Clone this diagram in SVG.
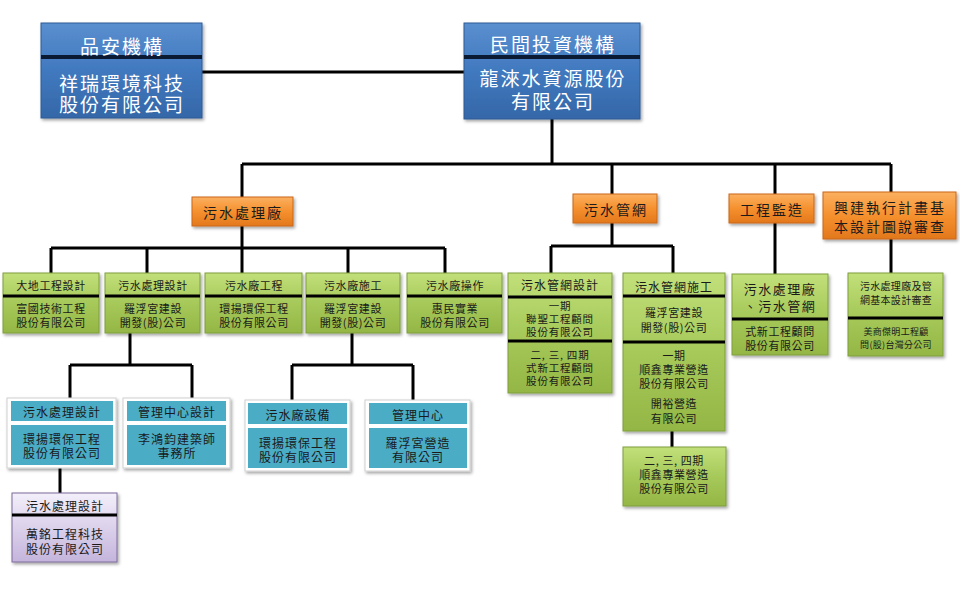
<svg xmlns="http://www.w3.org/2000/svg" width="960" height="599" viewBox="0 0 960 599">
<defs>
  <linearGradient id="gBlue" x1="0" y1="0" x2="0" y2="1">
    <stop offset="0" stop-color="#5a8fcf"/>
    <stop offset="0.5" stop-color="#4179bf"/>
    <stop offset="1" stop-color="#3467a8"/>
  </linearGradient>
  <linearGradient id="gOrange" x1="0" y1="0" x2="0" y2="1">
    <stop offset="0" stop-color="#fbb060"/>
    <stop offset="0.5" stop-color="#f5902e"/>
    <stop offset="1" stop-color="#e3781c"/>
  </linearGradient>
  <linearGradient id="gGreen" x1="0" y1="0" x2="0" y2="1">
    <stop offset="0" stop-color="#c2e07a"/>
    <stop offset="0.5" stop-color="#a6c95a"/>
    <stop offset="1" stop-color="#93b645"/>
  </linearGradient>
  <linearGradient id="gPurple" x1="0" y1="0" x2="0" y2="1">
    <stop offset="0" stop-color="#f3effa"/>
    <stop offset="1" stop-color="#c4b4dc"/>
  </linearGradient>
  <filter id="sh" x="-10%" y="-10%" width="125%" height="130%">
    <feDropShadow dx="1.5" dy="2" stdDeviation="1.5" flood-color="#000" flood-opacity="0.35"/>
  </filter>
</defs>
<style>
  .conn path { fill: none; stroke: #000; stroke-width: 3; }
  .blue { fill: url(#gBlue); stroke: #2c5a94; stroke-width: 1; }
  .orange { fill: url(#gOrange); stroke: #c9671a; stroke-width: 1; }
  .green { fill: url(#gGreen); stroke: #7f9e3c; stroke-width: 1; }
  .purple { fill: url(#gPurple); stroke: #7d6a9a; stroke-width: 1; }
  .frame { fill: #fff; stroke: #d0d0d0; stroke-width: 1; }
  .teal { fill: #4bacc6; }
  .div { stroke: #000; stroke-width: 3; }
  .divb { stroke: #0b1a33; stroke-width: 4; }
  text { font-family: "Noto Sans CJK TC", "Noto Sans CJK SC", sans-serif; text-anchor: middle; dominant-baseline: central; fill: #1a1a1a; }
  .tw { fill: #ffffff; font-size: 19px; letter-spacing: 2px; }
  .to { font-size: 14px; letter-spacing: 2px; }
  .t11 { font-size: 11px; letter-spacing: 0.6px; }
  .t105 { font-size: 10.5px; letter-spacing: 0.8px; }
  .t12 { font-size: 12px; letter-spacing: 1px; }
  .t13 { font-size: 13px; letter-spacing: 1.5px; }
  .t10 { font-size: 10px; letter-spacing: 0.3px; }
  .t9 { font-size: 9px; letter-spacing: 0.3px; }
</style>

<g class="conn" id="connectors">
  <path d="M202,72 H464"/>
  <path d="M552,119 V164"/>
  <path d="M242,164 H891"/>
  <path d="M242,164 V197"/>
  <path d="M612,164 V194"/>
  <path d="M775,164 V194"/>
  <path d="M891,164 V192"/>
  <path d="M242,226 V273"/>
  <path d="M51,248 H445"/>
  <path d="M51,248 V273"/>
  <path d="M147,248 V273"/>
  <path d="M348,248 V273"/>
  <path d="M445,248 V273"/>
  <path d="M612,223 V246"/>
  <path d="M551,246 H673"/>
  <path d="M551,246 V273"/>
  <path d="M673,246 V273"/>
  <path d="M775,223 V274"/>
  <path d="M891,239 V273"/>
  <path d="M130,333 V365"/>
  <path d="M70,365 H192"/>
  <path d="M70,365 V399"/>
  <path d="M192,365 V399"/>
  <path d="M352,333 V365"/>
  <path d="M292,365 H413"/>
  <path d="M292,365 V401"/>
  <path d="M413,365 V401"/>
  <path d="M60,468 V493"/>
  <path d="M672,431 V447"/>
</g>

<g id="n-pinan">
  <rect class="blue" x="41" y="23" width="161" height="95" filter="url(#sh)"/>
  <line class="divb" x1="41" y1="57" x2="202" y2="57"/>
  <text class="tw" x="122" y="45">品安機構</text>
  <text class="tw" x="122" y="82">祥瑞環境科技<tspan x="122" dy="21">股份有限公司</tspan></text>
</g>

<g id="n-minjian">
  <rect class="blue" x="464" y="23" width="176" height="96" filter="url(#sh)"/>
  <line class="divb" x1="464" y1="57" x2="640" y2="57"/>
  <text class="tw" x="553" y="43">民間投資機構</text>
  <text class="tw" x="553" y="77">龍淶水資源股份<tspan x="553" dy="23">有限公司</tspan></text>
</g>

<g id="n-plant">
  <rect class="orange" x="192" y="197" width="101" height="29" filter="url(#sh)"/>
  <text class="to" x="243" y="212">污水處理廠</text>
</g>
<g id="n-network">
  <rect class="orange" x="573" y="194" width="84" height="29" filter="url(#sh)"/>
  <text class="to" x="616" y="209">污水管網</text>
</g>
<g id="n-supervise">
  <rect class="orange" x="729" y="194" width="85" height="29" filter="url(#sh)"/>
  <text class="to" x="772" y="209">工程監造</text>
</g>
<g id="n-review">
  <rect class="orange" x="823" y="192" width="133" height="47" filter="url(#sh)"/>
  <text class="to" x="890" y="207">興建執行計畫基<tspan x="890" dy="19">本設計圖說審查</tspan></text>
</g>

<g id="n-geo">
  <rect class="green" x="3" y="273" width="96" height="60" filter="url(#sh)"/>
  <line class="div" x1="3" y1="296" x2="99" y2="296"/>
  <text class="t11" x="51" y="285">大地工程設計</text>
  <text class="t11" x="51" y="308">富國技術工程<tspan x="51" dy="14">股份有限公司</tspan></text>
</g>
<g id="n-design">
  <rect class="green" x="105" y="273" width="95" height="60" filter="url(#sh)"/>
  <line class="div" x1="105" y1="296" x2="200" y2="296"/>
  <text class="t11" x="153" y="285">污水處理設計</text>
  <text class="t11" x="153" y="308">羅浮宮建設<tspan x="153" dy="14">開發(股)公司</tspan></text>
</g>
<g id="n-eng">
  <rect class="green" x="205" y="273" width="97" height="60" filter="url(#sh)"/>
  <line class="div" x1="205" y1="296" x2="302" y2="296"/>
  <text class="t11" x="254" y="285">污水廠工程</text>
  <text class="t11" x="254" y="308">環揚環保工程<tspan x="254" dy="14">股份有限公司</tspan></text>
</g>
<g id="n-build">
  <rect class="green" x="306" y="273" width="94" height="60" filter="url(#sh)"/>
  <line class="div" x1="306" y1="296" x2="400" y2="296"/>
  <text class="t11" x="353" y="285">污水廠施工</text>
  <text class="t11" x="353" y="308">羅浮宮建設<tspan x="353" dy="14">開發(股)公司</tspan></text>
</g>
<g id="n-operate">
  <rect class="green" x="407" y="273" width="95" height="60" filter="url(#sh)"/>
  <line class="div" x1="407" y1="296" x2="502" y2="296"/>
  <text class="t11" x="455" y="285">污水廠操作</text>
  <text class="t11" x="455" y="308">惠民實業<tspan x="455" dy="14">股份有限公司</tspan></text>
</g>

<g id="n-netdesign">
  <rect class="green" x="508" y="273" width="104" height="120" filter="url(#sh)"/>
  <line class="div" x1="508" y1="297" x2="612" y2="297"/>
  <line class="div" x1="508" y1="341" x2="612" y2="341"/>
  <text class="t12" x="560" y="284">污水管網設計</text>
  <text class="t105" x="560" y="305">一期<tspan x="560" dy="13">聯聖工程顧問</tspan><tspan x="560" dy="13">股份有限公司</tspan></text>
  <text class="t105" x="560" y="354">二, 三, 四期<tspan x="560" dy="13">式新工程顧問</tspan><tspan x="560" dy="13">股份有限公司</tspan></text>
</g>

<g id="n-netbuild">
  <rect class="green" x="623" y="273" width="102" height="158" filter="url(#sh)"/>
  <line class="div" x1="623" y1="296" x2="725" y2="296"/>
  <line class="div" x1="623" y1="342" x2="725" y2="342"/>
  <text class="t12" x="674" y="286">污水管網施工</text>
  <text class="t11" x="674" y="312">羅浮宮建設<tspan x="674" dy="15">開發(股)公司</tspan></text>
  <text class="t11" x="674" y="355">一期<tspan x="674" dy="14">順鑫專業營造</tspan><tspan x="674" dy="14">股份有限公司</tspan><tspan x="674" dy="20">開裕營造</tspan><tspan x="674" dy="15">有限公司</tspan></text>
</g>

<g id="n-netbuild2">
  <rect class="green" x="623" y="447" width="103" height="59" filter="url(#sh)"/>
  <text class="t11" x="674" y="460">二, 三, 四期<tspan x="674" dy="14">順鑫專業營造</tspan><tspan x="674" dy="14">股份有限公司</tspan></text>
</g>

<g id="n-supchild">
  <rect class="green" x="732" y="274" width="96" height="81" filter="url(#sh)"/>
  <line class="div" x1="732" y1="319" x2="828" y2="319"/>
  <text class="t13" x="780" y="288">污水處理廠<tspan x="780" dy="17">、污水管網</tspan></text>
  <text class="t11" x="780" y="331">式新工程顧問<tspan x="780" dy="14">股份有限公司</tspan></text>
</g>

<g id="n-revchild">
  <rect class="green" x="848" y="273" width="95" height="83" filter="url(#sh)"/>
  <line class="div" x1="848" y1="318" x2="943" y2="318"/>
  <text class="t10" x="896" y="285">污水處理廠及管<tspan x="896" dy="14">網基本設計審查</tspan></text>
  <text class="t9" x="896" y="331">美商傑明工程顧<tspan x="896" dy="13">問(股)台灣分公司</tspan></text>
</g>

<g id="n-tealA">
  <rect class="frame" x="7" y="398" width="109" height="70" filter="url(#sh)"/>
  <rect class="teal" x="11" y="401" width="102" height="20"/>
  <rect class="teal" x="11" y="425" width="102" height="40"/>
  <text class="t12" x="62" y="411">污水處理設計</text>
  <text class="t12" x="62" y="438">環揚環保工程<tspan x="62" dy="14">股份有限公司</tspan></text>
</g>
<g id="n-tealB">
  <rect class="frame" x="123" y="398" width="107" height="70" filter="url(#sh)"/>
  <rect class="teal" x="127" y="401" width="99" height="20"/>
  <rect class="teal" x="127" y="425" width="99" height="40"/>
  <text class="t12" x="177" y="411">管理中心設計</text>
  <text class="t12" x="177" y="438">李鴻鈞建築師<tspan x="177" dy="14">事務所</tspan></text>
</g>
<g id="n-tealC">
  <rect class="frame" x="245" y="400" width="105" height="71" filter="url(#sh)"/>
  <rect class="teal" x="248" y="403" width="99" height="21"/>
  <rect class="teal" x="248" y="428" width="99" height="40"/>
  <text class="t12" x="298" y="414">污水廠設備</text>
  <text class="t12" x="298" y="442">環揚環保工程<tspan x="298" dy="14">股份有限公司</tspan></text>
</g>
<g id="n-tealD">
  <rect class="frame" x="365" y="400" width="105" height="71" filter="url(#sh)"/>
  <rect class="teal" x="369" y="403" width="98" height="21"/>
  <rect class="teal" x="369" y="428" width="98" height="40"/>
  <text class="t12" x="418" y="414">管理中心</text>
  <text class="t12" x="418" y="442">羅浮宮營造<tspan x="418" dy="14">有限公司</tspan></text>
</g>

<g id="n-purple">
  <rect class="purple" x="12" y="493" width="105" height="69" filter="url(#sh)"/>
  <line class="div" x1="12" y1="515" x2="117" y2="515"/>
  <text class="t12" x="65" y="505">污水處理設計</text>
  <text class="t12" x="65" y="533">萬銘工程科技<tspan x="65" dy="15">股份有限公司</tspan></text>
</g>
</svg>
